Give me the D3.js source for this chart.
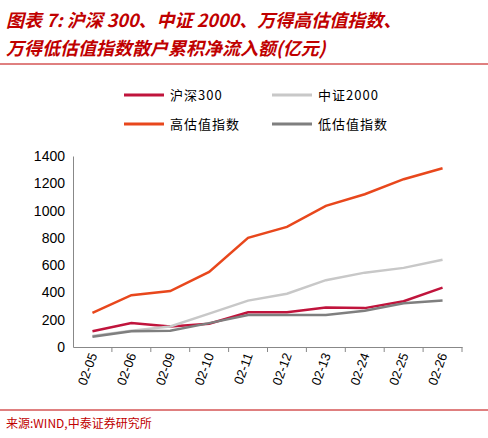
<!DOCTYPE html>
<html><head><meta charset="utf-8">
<script src="https://cdn.jsdelivr.net/npm/d3@7"></script>
<style>body{margin:0;background:#fff;}</style>
</head><body>
<svg id="chart" width="488" height="438"></svg>
<script>
const dates = ['02-05','02-06','02-09','02-10','02-11','02-12','02-13','02-24','02-25','02-26'];
const hs300 = [115,175,150,170,255,255,290,285,335,435];
const csi2000 = [80,120,150,245,340,390,490,545,580,640];
const highVal = [250,380,410,550,800,880,1035,1120,1230,1310];
const lowVal = [75,115,120,175,235,235,235,265,320,340];
const yTicks = [0,200,400,600,800,1000,1200,1400];

const series = [
  { name: '沪深300', values: hs300, color: '#c0143c' },
  { name: '中证2000', values: csi2000, color: '#c8c8c8' },
  { name: '高估值指数', values: highVal, color: '#e8471c' },
  { name: '低估值指数', values: lowVal, color: '#7f7f7f' }
];

const svg = d3.select('#chart');
const font = '"Liberation Sans", Arial, sans-serif';

svg.append('text').attr('x', 6).attr('y', 27)
  .attr('fill', '#c00000').attr('font-size', 18).attr('font-weight', 'bold').attr('font-style', 'italic')
  .attr('font-family', '"Noto Sans CJK SC", sans-serif')
  .text('图表 7:  沪深 300、中证 2000、万得高估值指数、');
svg.append('text').attr('x', 6).attr('y', 55)
  .attr('fill', '#c00000').attr('font-size', 18).attr('font-weight', 'bold').attr('font-style', 'italic')
  .attr('font-family', '"Noto Sans CJK SC", sans-serif')
  .text('万得低估值指数散户累积净流入额(亿元)');
svg.append('line').attr('x1', 0).attr('x2', 488).attr('y1', 64).attr('y2', 64)
  .attr('stroke', '#c00000').attr('stroke-width', 1);

const margins = { left: 73, top: 156, right: 26, bottom: 91 };
const w = 488 - margins.left - margins.right;
const h = 438 - margins.top - margins.bottom;
const g = svg.append('g').attr('transform', `translate(${margins.left},${margins.top})`);

const x = d3.scaleBand().domain(dates).range([0, w]);
const y = d3.scaleLinear().domain([0, 1400]).range([h, 0]);

const yAxis = g.append('g').call(d3.axisLeft(y).tickValues(yTicks).tickFormat(d3.format('d')).tickSize(0).tickPadding(8));
yAxis.select('.domain').attr('stroke', '#888');
yAxis.selectAll('text').attr('font-size', 14).attr('font-family', font).attr('fill', '#000');

const xAxis = g.append('g').attr('transform', `translate(0,${h})`)
  .call(d3.axisBottom(x).tickSize(0).tickFormat(''));
xAxis.select('.domain').attr('stroke', '#888');
dates.forEach((d, i) => {
  g.append('line').attr('x1', x.step() * (i + 1)).attr('x2', x.step() * (i + 1))
    .attr('y1', h).attr('y2', h + 5).attr('stroke', '#888');
  g.append('text')
    .attr('transform', `translate(${x(d) + x.bandwidth() / 2 + 5},${h + 8}) rotate(-70)`)
    .attr('text-anchor', 'end').attr('font-size', 13).attr('font-family', font)
    .text(d);
});

const line = d3.line().x((d, i) => x(dates[i]) + x.bandwidth() / 2).y(d => y(d));
series.forEach(s => {
  g.append('path').datum(s.values).attr('d', line)
    .attr('fill', 'none').attr('stroke', s.color).attr('stroke-width', 2.5);
});

const legendPos = [[124, 95], [272, 95], [124, 124], [272, 124]];
series.forEach((s, i) => {
  const [lx, ly] = legendPos[i];
  svg.append('line').attr('x1', lx).attr('x2', lx + 40).attr('y1', ly).attr('y2', ly)
    .attr('stroke', s.color).attr('stroke-width', 3);
  svg.append('text').attr('x', lx + 46).attr('y', ly + 5).attr('font-size', 13)
    .attr('font-family', '"Noto Sans CJK SC", sans-serif').attr('letter-spacing', 1).text(s.name);
});

svg.append('line').attr('x1', 0).attr('x2', 488).attr('y1', 410).attr('y2', 410)
  .attr('stroke', '#c00000').attr('stroke-width', 1);
svg.append('text').attr('x', 6).attr('y', 428).attr('font-size', 12).attr('fill', '#c00000')
  .attr('font-family', '"Noto Sans CJK SC", sans-serif').text('来源:WIND,中泰证券研究所');
</script>
</body></html>
